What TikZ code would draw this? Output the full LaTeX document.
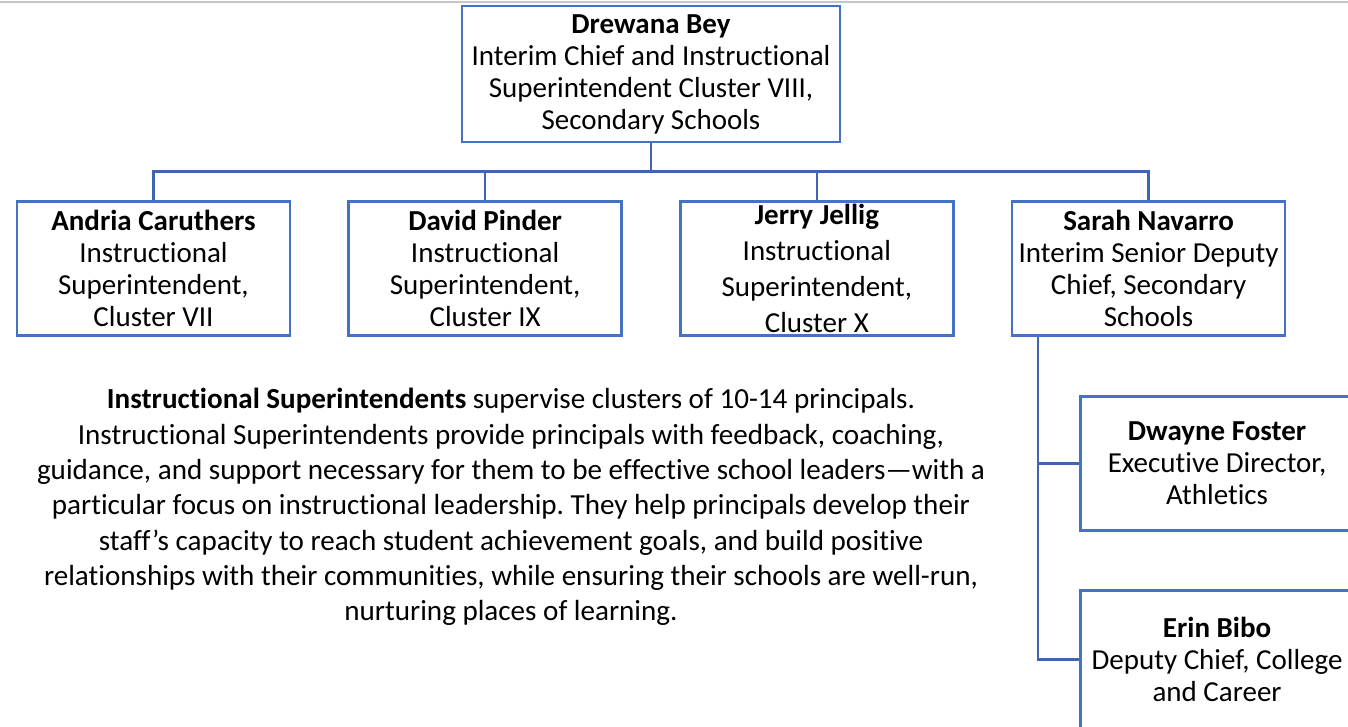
\documentclass[tikz,border=0pt]{standalone}
\usepackage{fontspec}
\setmainfont{Carlito}[Ligatures={TeX,NoCommon}]
\usetikzlibrary{trees}

\definecolor{orgblue}{HTML}{4472C4}
\definecolor{linkblue}{HTML}{3F67B1}
\definecolor{rulegray}{HTML}{C3C7CC}
\newcommand{\boxfont}{\fontsize{29}{32}\selectfont}
\newcommand{\notefont}{\fontsize{29.1}{35.3}\selectfont\frenchspacing}

\tikzset{
  unit/.style={draw=orgblue, line width=2.6pt, fill=white, align=center,
    minimum width=273pt, minimum height=134pt, inner sep=2pt, font=\boxfont},
  note/.style={draw=none, fill=none, minimum width=0pt, minimum height=0pt,
    inner sep=0pt, font=\notefont}
}

\begin{document}
\begin{tikzpicture}[x=1pt,y=-1pt,
    edge from parent/.style={draw=linkblue,line width=2.6pt},
    edge from parent path=
    {(\tikzparentnode.south) -- ++(0,28) -| (\tikzchildnode.north)},
    level 1/.style={sibling distance=331.7pt, level distance=194.5pt},
    level 2/.style={grow via three points={one child at (68.5,195)
        and two children at (68.5,195) and (68.5,391)},
      edge from parent path=
      {([xshift=-110.5pt]\tikzparentnode.south) |- (\tikzchildnode.west)}},
    every node/.style={unit}]

\useasboundingbox (0,0) rectangle (1348,727);
\draw[rulegray, line width=2pt] (0,2.5) -- (1348,2.5);

\node[minimum width=378pt, minimum height=136pt] (bey) at (651,74)
    {\textbf{Drewana Bey}\\Interim Chief and Instructional\\
     Superintendent Cluster VIII,\\Secondary Schools}
    child {node (caruthers) {\textbf{Andria Caruthers}\\Instructional\\
        Superintendent,\\Cluster VII}}
    child {node (pinder) {\textbf{David Pinder}\\Instructional\\
        Superintendent,\\Cluster IX}}
    child {node (jellig) {\textbf{Jerry Jellig}\\[4pt]Instructional\\[4pt]
        Superintendent,\\[4pt]Cluster X}}
    child {node (navarro) {\textbf{Sarah Navarro}\\Interim Senior Deputy\\
        Chief, Secondary\\Schools}
        child {node (foster) {\textbf{Dwayne Foster}\\Executive Director,\\
            Athletics}}
        child {node[minimum height=138pt] (bibo) {\textbf{Erin Bibo}\\
            Deputy Chief, College\\and Career}}
    };

% role of the instructional superintendents
\node[note] (isnote) at (511,507)
    {\textbf{Instructional Superintendents} supervise clusters of 10-14 principals.\\
     Instructional Superintendents provide principals with feedback, coaching,\\
     guidance, and support necessary for them to be effective school leaders—with a\\
     particular focus on instructional leadership. They help principals develop their\\
     staff’s capacity to reach student achievement goals, and build positive\\
     relationships with their communities, while ensuring their schools are well-run,\\
     nurturing places of learning.};

\end{tikzpicture}
\end{document}
